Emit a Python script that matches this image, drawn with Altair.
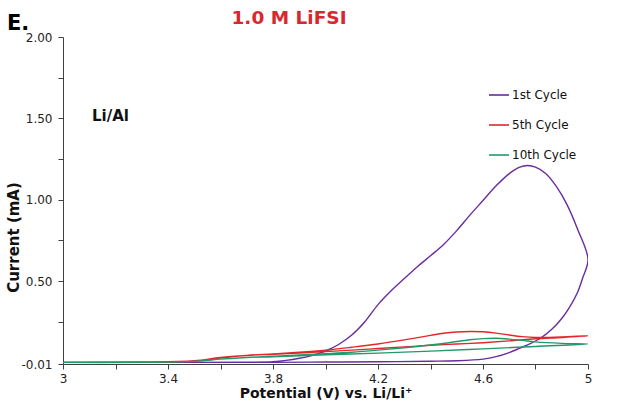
import altair as alt
import pandas as pd

cycles = ["1st Cycle", "5th Cycle", "10th Cycle"]
colors = ["#6A2C9E", "#E3262B", "#23996B"]

# 1st cycle: forward scan then reverse scan
v_1st = [3.0, 3.4, 3.7, 3.8, 3.85, 3.9, 3.95, 4.0, 4.05, 4.1, 4.15, 4.2, 4.25, 4.3, 4.35,
         4.4, 4.45, 4.5, 4.55, 4.6, 4.65, 4.7, 4.74, 4.77, 4.8, 4.84, 4.88, 4.92, 4.96, 5.0,
         4.98, 4.96, 4.93, 4.9, 4.86, 4.82, 4.78, 4.74, 4.7, 4.65, 4.6, 4.5, 4.4, 4.2, 4.0,
         3.8, 3.5, 3.0]
i_1st = [0.0, 0.0, 0.001, 0.004, 0.012, 0.025, 0.043, 0.07, 0.11, 0.168, 0.25, 0.355, 0.44, 0.515, 0.588,
         0.655, 0.725, 0.81, 0.905, 0.995, 1.085, 1.16, 1.20, 1.21, 1.20, 1.16, 1.08, 0.97, 0.82, 0.633,
         0.52, 0.43, 0.34, 0.27, 0.2, 0.15, 0.115, 0.087, 0.06, 0.035, 0.02, 0.01, 0.007, 0.004, 0.002,
         0.0, 0.0, 0.0]

v_5th = [3.0, 3.3, 3.5, 3.6, 3.7, 3.8, 3.9, 4.0, 4.1, 4.2, 4.3, 4.4, 4.45, 4.5, 4.55, 4.6, 4.65,
         4.7, 4.75, 4.8, 4.9, 5.0,
         4.9, 4.8, 4.7, 4.6, 4.5, 4.4, 4.3, 4.2, 4.1, 4.0, 3.9, 3.8, 3.7, 3.6, 3.5, 3.3, 3.0]
i_5th = [0.0, 0.002, 0.008, 0.026, 0.043, 0.052, 0.062, 0.075, 0.093, 0.113, 0.138, 0.166, 0.179, 0.187, 0.19, 0.188, 0.18,
         0.168, 0.158, 0.153, 0.157, 0.163,
         0.153, 0.145, 0.132, 0.121, 0.113, 0.105, 0.095, 0.085, 0.075, 0.066, 0.058, 0.05, 0.042, 0.03, 0.01, 0.002, 0.0]

v_10th = [3.0, 3.5, 3.6, 3.7, 3.8, 3.9, 4.0, 4.1, 4.2, 4.3, 4.4, 4.5, 4.55, 4.6, 4.65, 4.7, 4.75,
          4.8, 4.9, 5.0,
          4.8, 4.6, 4.4, 4.2, 4.0, 3.8, 3.7, 3.6, 3.5, 3.0]
i_10th = [0.0, 0.006, 0.02, 0.03, 0.038, 0.045, 0.053, 0.062, 0.075, 0.09, 0.107, 0.128, 0.139, 0.146, 0.148, 0.143, 0.135,
          0.126, 0.117, 0.113,
          0.098, 0.083, 0.069, 0.057, 0.046, 0.035, 0.03, 0.02, 0.006, 0.0]

x_ticks = [3.0, 3.2, 3.4, 3.6, 3.8, 4.0, 4.2, 4.4, 4.6, 4.8, 5.0]
y_ticks = [-0.01, 0.25, 0.5, 0.75, 1.0, 1.25, 1.5, 1.75, 2.0]

rows = []
for name, vs, cs in zip(cycles, [v_1st, v_5th, v_10th], [i_1st, i_5th, i_10th]):
    for k, (v, c) in enumerate(zip(vs, cs)):
        rows.append({"cycle": name, "v": v, "i": c, "k": k})
df = pd.DataFrame(rows)

FONT = "DejaVu Sans"

lines = alt.Chart(df).mark_line(strokeWidth=1.4, clip=True, interpolate="catmull-rom").encode(
    x=alt.X("v:Q",
            scale=alt.Scale(domain=[3, 5], nice=False, zero=False),
            axis=alt.Axis(values=x_ticks,
                          labelExpr="(round((datum.value-3)*10) % 4 == 0) ? format(datum.value, '~g') : ''",
                          title="Potential (V) vs. Li/Li\u207a",
                          titleFontSize=14, titleFontWeight="bold", titleColor="#111",
                          titlePadding=2,
                          labelFontSize=12, labelColor="#222", labelPadding=4,
                          tickSize=5, grid=False, domainColor="#404040", tickColor="#404040",
                          labelFlush=False)),
    y=alt.Y("i:Q",
            scale=alt.Scale(domain=[-0.01, 2.0], nice=False, zero=False),
            axis=alt.Axis(values=y_ticks,
                          labelExpr="datum.value < 0 ? '-' + format(abs(datum.value), '.2f') : (abs(datum.value*2 - round(datum.value*2)) < 0.001 ? format(datum.value, '.2f') : '')",
                          title="Current (mA)",
                          titleFontSize=15, titleFontWeight="bold", titleColor="#111",
                          titleX=-50, titleY=200, titleAngle=-90, titleAlign="center", titleBaseline="middle",
                          labelFontSize=12, labelColor="#222", labelPadding=6,
                          tickSize=5, grid=False, domainColor="#404040", tickColor="#404040",
                          labelFlush=False)),
    color=alt.Color("cycle:N",
                    scale=alt.Scale(domain=cycles, range=colors),
                    legend=alt.Legend(title=None, orient="none", legendX=425, legendY=47,
                                      symbolType="stroke", symbolSize=400, symbolStrokeWidth=1.6,
                                      labelFontSize=12, labelOffset=2, rowPadding=13,
                                      labelColor="#111")),
    order="k:Q",
)

title_txt = alt.Chart(pd.DataFrame({"t": ["1.0 M LiFSI"]})).mark_text(
    fontSize=18.5, fontWeight="bold", color="#D7282F", align="center", baseline="middle", font=FONT
).encode(text="t:N", x=alt.value(226), y=alt.value(-19))

panel_txt = alt.Chart(pd.DataFrame({"t": ["E."]})).mark_text(
    fontSize=21, fontWeight="bold", color="#000", align="left", baseline="alphabetic", font=FONT
).encode(text="t:N", x=alt.value(-56), y=alt.value(-7))

cell_txt = alt.Chart(pd.DataFrame({"t": ["Li/Al"]})).mark_text(
    fontSize=15, fontWeight="bold", color="#111", align="left", baseline="middle", font=FONT
).encode(text="t:N", x=alt.value(29), y=alt.value(79))

chart = alt.layer(lines, title_txt, panel_txt, cell_txt).properties(
    width=525, height=327,
    autosize=alt.AutoSizeParams(type="none"),
    padding={"left": 63, "top": 37, "right": 32, "bottom": 46},
    background="white",
).configure(font=FONT).configure_view(stroke=None)

chart.save("out.html", embed_options={"renderer": "svg", "actions": False})
